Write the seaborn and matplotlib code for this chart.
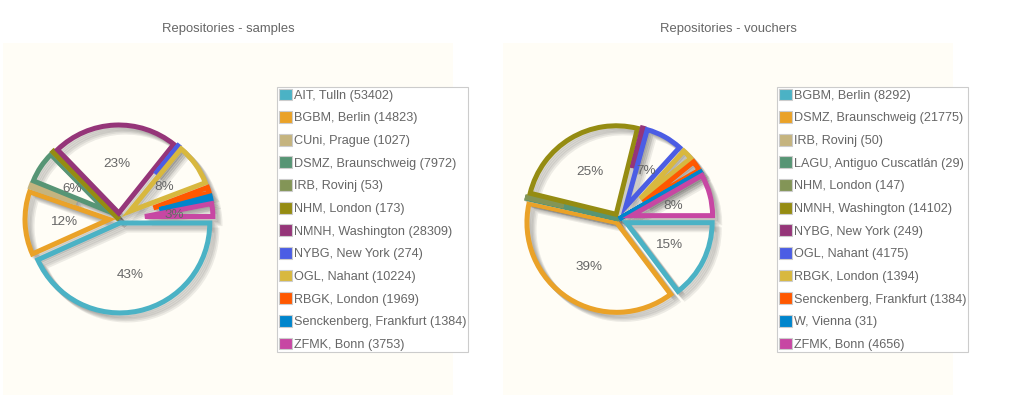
import numpy as np
import matplotlib
matplotlib.use("Agg")
import matplotlib.pyplot as plt
import seaborn as sns
from matplotlib.patches import Wedge, Patch
from matplotlib import patheffects as pe

# Repositories - samples
sample_names = ["AIT, Tulln", "BGBM, Berlin", "CUni, Prague", "DSMZ, Braunschweig",
                "IRB, Rovinj", "NHM, London", "NMNH, Washington", "NYBG, New York",
                "OGL, Nahant", "RBGK, London", "Senckenberg, Frankfurt", "ZFMK, Bonn"]
sample_counts = [53402, 14823, 1027, 7972, 53, 173, 28309, 274, 10224, 1969, 1384, 3753]

# Repositories - vouchers
voucher_names = ["BGBM, Berlin", "DSMZ, Braunschweig", "IRB, Rovinj", "LAGU, Antiguo Cuscatlán",
                 "NHM, London", "NMNH, Washington", "NYBG, New York", "OGL, Nahant",
                 "RBGK, London", "Senckenberg, Frankfurt", "W, Vienna", "ZFMK, Bonn"]
voucher_counts = [8292, 21775, 50, 29, 147, 14102, 249, 4175, 1394, 1384, 31, 4656]

colors = ["#4bb2c5", "#eaa228", "#c5b47f", "#579575", "#839557", "#958c12",
          "#953579", "#4b5de4", "#d8b83f", "#ff5800", "#0085cc", "#c747a3"]

sns.set_theme(style="white")
plt.rcParams["font.family"] = ["Liberation Sans", "DejaVu Sans"]

W, H = 1030, 395
fig = plt.figure(figsize=(W / 100, H / 100), dpi=100)
fig.patch.set_facecolor("white")

TXT = "#666666"
LW = 3.6


def draw_pie(x0, title, names, counts):
    ax = fig.add_axes([x0 / W, 0, 450 / W, 352 / H])
    pal = sns.color_palette(colors, len(counts))
    cx, cy, r = 116, 176, 94
    sm = 8.0  # slice margin + line width (jqPlot style)
    wedges, _ = ax.pie(counts, colors=pal, radius=r, center=(cx, cy),
                       startangle=0, counterclock=False, frame=True,
                       wedgeprops=dict(fill=False, linewidth=LW, joinstyle="miter"))
    total = float(sum(counts))
    for w, c, v in zip(wedges, pal, counts):
        w.set_edgecolor(c)
        t1, t2 = w.theta1, w.theta2
        ang = np.radians(t2 - t1)
        mid = np.radians((t1 + t2) / 2)
        rp = 0.0
        if 0.01 < ang < 6.282:
            rp = sm / 2.0 / np.sin((ang - (ang - np.pi) / 8 / np.pi) / 2.0)
        nr = r - rp if ang <= np.pi else r + rp
        nc = (cx + rp * np.cos(mid), cy + rp * np.sin(mid))
        w.set_center(nc)
        w.set_radius(nr)
        w.set_zorder(3)
        # shadow
        sh = Wedge(nc, nr, t1, t2, fill=False, linewidth=LW, edgecolor=c,
                   joinstyle="miter", zorder=2, clip_on=False)
        sh.set_path_effects([pe.SimpleLineShadow(offset=(1.02 * k, -1.02 * k),
                                                 shadow_color="k", alpha=0.08)
                             for k in range(1, 6)])
        ax.add_patch(sh)
        pct = 100 * v / total
        if pct >= 3:
            d = r * 0.52 + 7
            ax.text(cx + d * np.cos(mid), cy + d * np.sin(mid) - 1, f"{round(pct)}%",
                    ha="center", va="center", fontsize=9.7, color=TXT, zorder=5)
    ax.set_xlim(0, 450)
    ax.set_ylim(0, 352)
    ax.set_facecolor("#fffdf6")
    ax.set_xticks([])
    ax.set_yticks([])
    for s in ax.spines.values():
        s.set_visible(False)

    fig.text((x0 + 225) / W, 1 - 29 / H, title, ha="center", va="center",
             fontsize=9.35, color=TXT)

    handles = [Patch(facecolor=c, edgecolor="#cccccc", linewidth=0.8) for c in pal]
    labels = [f"{n} ({v})" for n, v in zip(names, counts)]
    leg = ax.legend(handles, labels, loc="upper left",
                    bbox_to_anchor=((x0 + 274) / W, 1 - 87 / H),
                    bbox_transform=fig.transFigure, borderaxespad=0,
                    borderpad=0.12, frameon=True, fancybox=False,
                    edgecolor="#cccccc", facecolor="white", framealpha=1,
                    fontsize=9.1, handlelength=1.05, handleheight=1.05,
                    handletextpad=0.2, labelspacing=0.75, labelcolor=TXT)
    leg.get_frame().set_linewidth(0.8)


draw_pie(3, "Repositories - samples", sample_names, sample_counts)
draw_pie(503, "Repositories - vouchers", voucher_names, voucher_counts)

fig.savefig("out.png", dpi=100, facecolor="white")
